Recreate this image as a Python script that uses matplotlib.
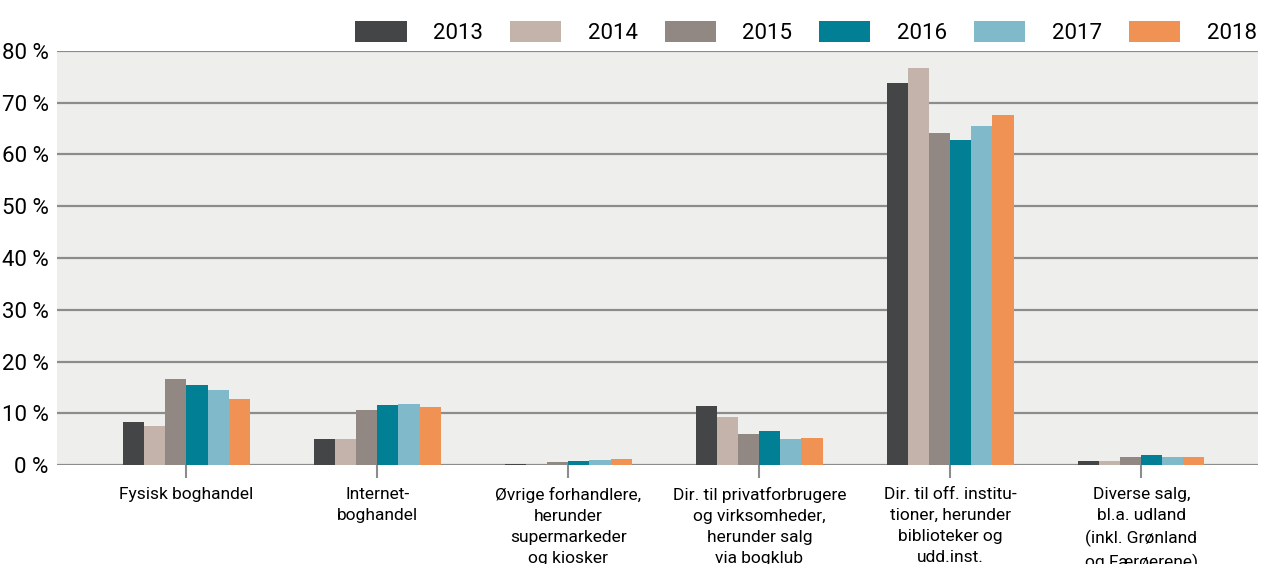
import matplotlib.pyplot as plt
import numpy as np

plt.rcParams['font.family'] = ['Roboto', 'DejaVu Sans']

#==============================================================================
# data
#==============================================================================
categories = ["Fysisk boghandel",
              "Internet-\nboghandel",
              "Øvrige forhandlere,\nherunder\nsupermarkeder\nog kiosker",
              "Dir. til privatforbrugere\nog virksomheder,\nherunder salg\nvia bogklub",
              "Dir. til off. institu-\ntioner, herunder\nbiblioteker og\nudd.inst.",
              "Diverse salg,\nbl.a. udland\n(inkl. Grønland\nog Færøerene)"]
years = ["2013", "2014", "2015", "2016", "2017", "2018"]
v2013 = [8.3, 5.0, 0.2, 11.4, 73.8, 0.8]
v2014 = [7.5, 5.0, 0.1, 9.3, 76.7, 0.8]
v2015 = [16.6, 10.6, 0.6, 6.0, 64.2, 1.5]
v2016 = [15.5, 11.6, 0.8, 6.6, 62.8, 1.9]
v2017 = [14.5, 11.8, 1.0, 5.0, 65.5, 1.5]
v2018 = [12.8, 11.2, 1.2, 5.2, 67.6, 1.5]
yticks = [0, 10, 20, 30, 40, 50, 60, 70, 80]
ytick_labels = ["0 %", "10 %", "20 %", "30 %", "40 %", "50 %", "60 %", "70 %", "80 %"]

series = [v2013, v2014, v2015, v2016, v2017, v2018]
colors = ["#444546", "#c4b3aa", "#928883", "#007f95", "#80b9ca", "#f09254"]

#==============================================================================
# plot
#==============================================================================
fig = plt.figure(figsize=(12.61, 5.64), dpi=100)
ax = fig.add_axes([0.0452, 0.1755, 0.9524, 0.7341])
ax.set_facecolor("#eeeeec")

x = np.arange(len(categories))
w = 0.11
for i, vals in enumerate(series):
    ax.bar(x + (i - 2.5) * w, vals, w, color=colors[i], label=years[i], zorder=3)

ax.set_ylim(0, 80)
ax.set_xlim(-0.678, 5.61)
ax.set_yticks(yticks)
ax.set_yticklabels(ytick_labels, fontsize=16)
ax.set_xticks(x)
ax.set_xticklabels(categories, fontsize=12.5, linespacing=1.52, va="top")
ax.tick_params(axis="y", length=0, pad=6)
ax.tick_params(axis="x", length=9.5, width=1.5, color="#8c8c8c", pad=6)
ax.yaxis.grid(True, color="#8c8c8c", linewidth=1.6, zorder=1)
ax.set_axisbelow(True)
for s in ax.spines.values():
    s.set_visible(False)

ax.legend(loc="lower right", bbox_to_anchor=(1.01, 0.985), ncol=6, frameon=False,
          fontsize=16, handlelength=2.3, handleheight=1.05, handletextpad=1.2,
          columnspacing=1.21, borderaxespad=0.2)

plt.savefig("out.png", dpi=100)
